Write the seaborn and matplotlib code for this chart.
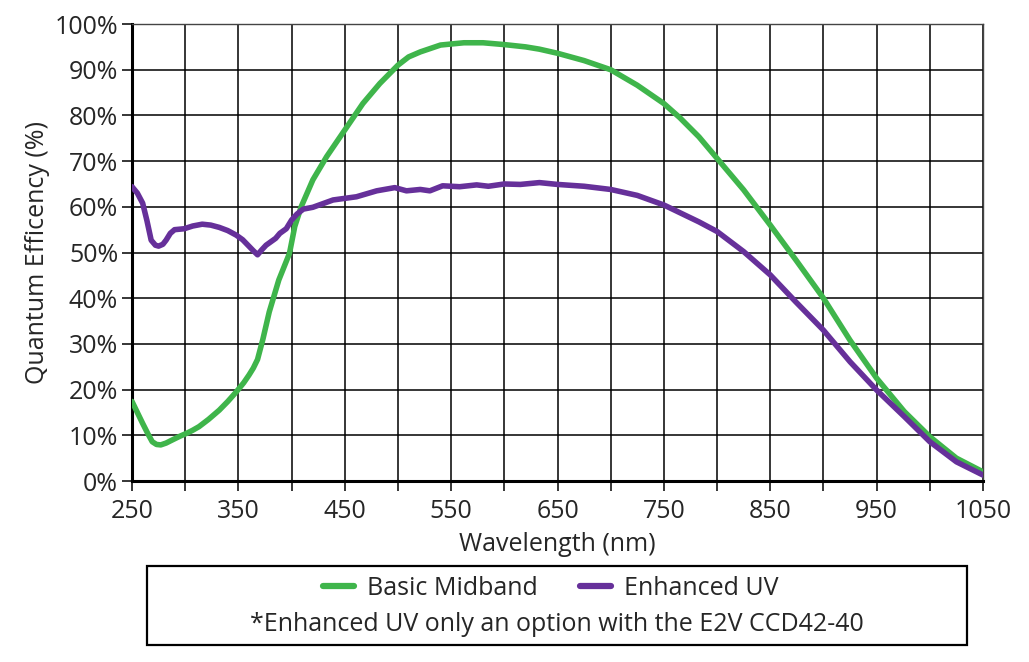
import numpy as np
import pandas as pd
import matplotlib
matplotlib.use("Agg")
import matplotlib.pyplot as plt
from matplotlib.patches import Rectangle
from matplotlib.lines import Line2D
import seaborn as sns

# Basic Midband (green)
mid_wl = [250, 255, 260, 265, 269, 273, 277, 282, 288, 295, 301, 307, 313, 322, 332,
          340, 348, 355, 360, 364, 368, 373, 379, 388, 398, 403, 409, 420, 433, 450,
          467, 483, 500, 510, 521, 540, 562, 580, 600, 620, 633, 650, 675, 700, 725,
          750, 765, 783, 800, 825, 850, 874, 900, 925, 950, 976, 1000, 1025, 1050]
mid_qe = [17.4, 15.0, 12.6, 10.3, 8.6, 8.0, 7.9, 8.3, 9.0, 9.8, 10.4, 11.1, 11.9, 13.5, 15.5,
          17.4, 19.5, 21.5, 23.2, 24.7, 26.6, 31.0, 37.0, 44.0, 49.8, 55.7, 60.0, 65.9, 71.0, 76.8,
          82.6, 87.0, 91.0, 92.8, 93.9, 95.4, 95.9, 95.9, 95.5, 95.0, 94.5, 93.6, 92.0, 90.0, 86.6,
          82.6, 79.5, 75.3, 70.6, 63.7, 56.0, 48.4, 40.0, 30.8, 22.5, 15.2, 9.7, 5.0, 2.0]

# Enhanced UV (purple)
uv_wl = [250, 255, 260, 264, 268, 272, 275, 279, 282, 286, 290, 299, 307, 316, 324,
         332, 340, 348, 354, 359, 364, 368, 372, 376, 385, 389, 395, 400, 405, 411,
         420, 439, 461, 480, 497, 508, 521, 530, 542, 558, 574, 585, 600, 615, 633,
         650, 675, 700, 725, 750, 783, 800, 825, 850, 874, 900, 925, 950, 976, 1000, 1025, 1050]
uv_qe = [64.4, 63.0, 60.8, 57.0, 52.7, 51.6, 51.4, 51.8, 52.7, 54.2, 55.0, 55.2, 55.8, 56.2, 56.0,
         55.5, 54.8, 53.8, 52.8, 51.6, 50.4, 49.5, 50.6, 51.6, 53.1, 54.2, 55.2, 57.1, 58.4, 59.5,
         59.9, 61.5, 62.2, 63.5, 64.2, 63.5, 63.8, 63.5, 64.6, 64.4, 64.8, 64.5, 65.0, 64.9, 65.3,
         64.9, 64.5, 63.8, 62.5, 60.4, 56.7, 54.6, 50.2, 45.1, 39.2, 33.0, 26.1, 19.9, 14.1, 8.6, 4.2, 1.3]

series_names = ["Basic Midband", "Enhanced UV"]
colors = {"Basic Midband": "#3fb54b", "Enhanced UV": "#66309a"}
x_ticks = [250, 350, 450, 550, 650, 750, 850, 950, 1050]
y_ticks = list(range(0, 101, 10))

df = pd.concat([
    pd.DataFrame({"wl": mid_wl, "qe": mid_qe, "series": series_names[0]}),
    pd.DataFrame({"wl": uv_wl, "qe": uv_qe, "series": series_names[1]}),
])

sns.set_theme(style="white")
plt.rcParams["font.family"] = ["Open Sans", "DejaVu Sans"]

FS = 18

fig = plt.figure(figsize=(10.29, 6.62), dpi=100)
ax = fig.add_axes([0.1283, 0.2734, 0.8270, 0.6903])

sns.lineplot(data=df, x="wl", y="qe", hue="series", palette=colors, ax=ax,
             linewidth=4.0, legend=False, sort=True, zorder=3)
for ln in ax.lines:
    ln.set_solid_joinstyle("round")
    ln.set_solid_capstyle("round")

ax.set_xlim(250, 1050)
ax.set_ylim(0, 100)
ax.set_xticks(x_ticks)
ax.set_xticks(np.arange(300, 1050, 100), minor=True)
ax.set_yticks(y_ticks)
ax.set_yticklabels([f"{v}%" for v in y_ticks])
ax.grid(True, which="both", color="black", linewidth=1.1)
ax.set_axisbelow(True)
ax.tick_params(axis="both", which="both", direction="out", length=7, width=1.1,
               color="black", labelsize=FS, bottom=True, left=True)
ax.tick_params(axis="x", which="both", pad=6)
ax.tick_params(axis="y", which="both", pad=3)
ax.tick_params(axis="x", which="minor", labelbottom=False)
for s in ["left", "bottom"]:
    ax.spines[s].set_color("black")
    ax.spines[s].set_linewidth(2.2)
for s in ["top", "right"]:
    ax.spines[s].set_color("#444444")
    ax.spines[s].set_linewidth(1.0)
ax.set_xlabel("Wavelength (nm)", fontsize=FS, labelpad=6)
ax.set_ylabel("Quantum Efficency (%)", fontsize=FS, labelpad=3)

# legend box
fig.patches.append(Rectangle((0.1429, 0.0257), 0.797, 0.119, transform=fig.transFigure,
                             fill=False, edgecolor="black", linewidth=1.6))
handles = [Line2D([0], [0], color=colors[n], linewidth=4.5) for n in series_names]
fig.legend(handles, series_names, loc="center", bbox_to_anchor=(0.535, 0.111),
           ncol=2, frameon=False, fontsize=FS, handlelength=1.25, columnspacing=1.7,
           handletextpad=0.5)
fig.text(0.541, 0.056, "*Enhanced UV only an option with the E2V CCD42-40",
         ha="center", va="center", fontsize=FS)

fig.savefig("out.png", dpi=100)
